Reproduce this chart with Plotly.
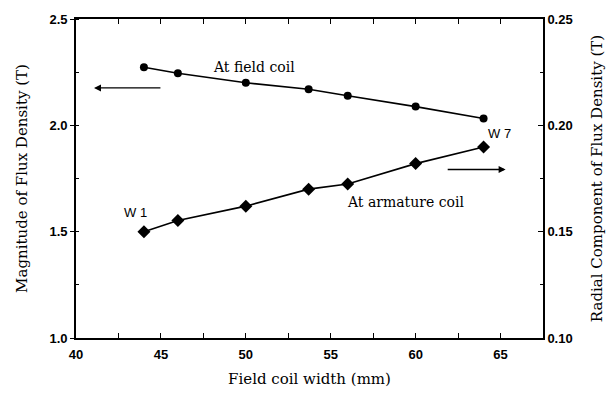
import plotly.graph_objects as go

# Data
width_mm = [44, 46, 50, 53.7, 56, 60, 64]
field_coil_T = [2.273, 2.245, 2.200, 2.170, 2.139, 2.088, 2.032]
armature_radial_T = [0.150, 0.1553, 0.162, 0.170, 0.1724, 0.182, 0.1898]

x_ticks = [40, 45, 50, 55, 60, 65]
y_ticks = [1.0, 1.5, 2.0, 2.5]
y2_ticks = [0.10, 0.15, 0.20, 0.25]

serif = "DejaVu Serif, serif"
sans = "Liberation Sans, Arial, sans-serif"

fig = go.Figure()
fig.add_trace(go.Scatter(
    x=width_mm, y=field_coil_T, mode="lines+markers",
    line=dict(color="black", width=1.6),
    marker=dict(symbol="circle", size=8, color="black"),
    showlegend=False, yaxis="y"))
fig.add_trace(go.Scatter(
    x=width_mm, y=armature_radial_T, mode="lines+markers",
    line=dict(color="black", width=1.6),
    marker=dict(symbol="diamond", size=10, color="black"),
    showlegend=False, yaxis="y2"))

tickfont = dict(family=sans, size=13, color="black", weight="bold")
titlefont = dict(family=serif, size=15, color="black")

fig.update_layout(
    width=616, height=399,
    margin=dict(l=76, r=73, t=14, b=61),
    paper_bgcolor="white", plot_bgcolor="white",
    xaxis=dict(
        range=[40, 67.5], tickvals=x_ticks, ticktext=[str(v) for v in x_ticks],
        ticks="inside", ticklen=5, tickcolor="black", tickwidth=1.2,
        showline=True, linecolor="black", linewidth=1.6, mirror="allticks",
        showgrid=False, zeroline=False, tickfont=tickfont, ticklabelstandoff=4,
        minor=dict(dtick=2.5, ticks="inside", ticklen=3, tickcolor="black", showgrid=False),
        title=dict(text="Field coil width (mm)", font=titlefont, standoff=12),
    ),
    yaxis=dict(
        range=[1.0, 2.5], tickvals=y_ticks, ticktext=["1.0", "1.5", "2.0", "2.5"],
        ticks="outside", ticklen=4, tickcolor="black", tickwidth=1.2,
        showline=True, linecolor="black", linewidth=1.6,
        showgrid=False, zeroline=False, tickfont=tickfont,
        minor=dict(dtick=0.25, ticks="inside", ticklen=3, tickcolor="black", showgrid=False),
        title=dict(text="Magnitude of Flux Density (T)", font=titlefont, standoff=18),
    ),
    yaxis2=dict(
        range=[0.10, 0.25], tickvals=y2_ticks, ticktext=["0.10", "0.15", "0.20", "0.25"],
        overlaying="y", side="right",
        ticks="inside", ticklen=5, tickcolor="black", tickwidth=1.2,
        showline=True, linecolor="black", linewidth=1.6,
        showgrid=False, zeroline=False, tickfont=tickfont,
        minor=dict(dtick=0.025, ticks="inside", ticklen=3, tickcolor="black", showgrid=False),
        title=dict(text="Radial Component of Flux Density (T)", font=titlefont, standoff=20),
    ),
    annotations=[
        dict(x=50.47, y=2.273, xref="x", yref="y", text="At field coil", showarrow=False,
             font=dict(family=serif, size=14, color="black")),
        dict(x=59.4, y=1.639, xref="x", yref="y", text="At armature coil", showarrow=False,
             font=dict(family=serif, size=14, color="black")),
        dict(x=64.94, y=1.963, xref="x", yref="y", text="W 7", showarrow=False,
             font=dict(family=sans, size=13, color="black")),
        dict(x=43.5, y=1.588, xref="x", yref="y", text="W 1", showarrow=False,
             font=dict(family=sans, size=13, color="black")),
        dict(x=41.06, y=2.176, xref="x", yref="y", ax=45.06, ay=2.176, axref="x", ayref="y",
             text="", showarrow=True, arrowhead=2, arrowsize=1, arrowwidth=1.4, arrowcolor="black"),
        dict(x=65.3, y=0.1792, xref="x", yref="y2", ax=61.8, ay=0.1792, axref="x", ayref="y2",
             text="", showarrow=True, arrowhead=2, arrowsize=1, arrowwidth=1.4, arrowcolor="black"),
    ],
)

fig.write_html("out.html")
